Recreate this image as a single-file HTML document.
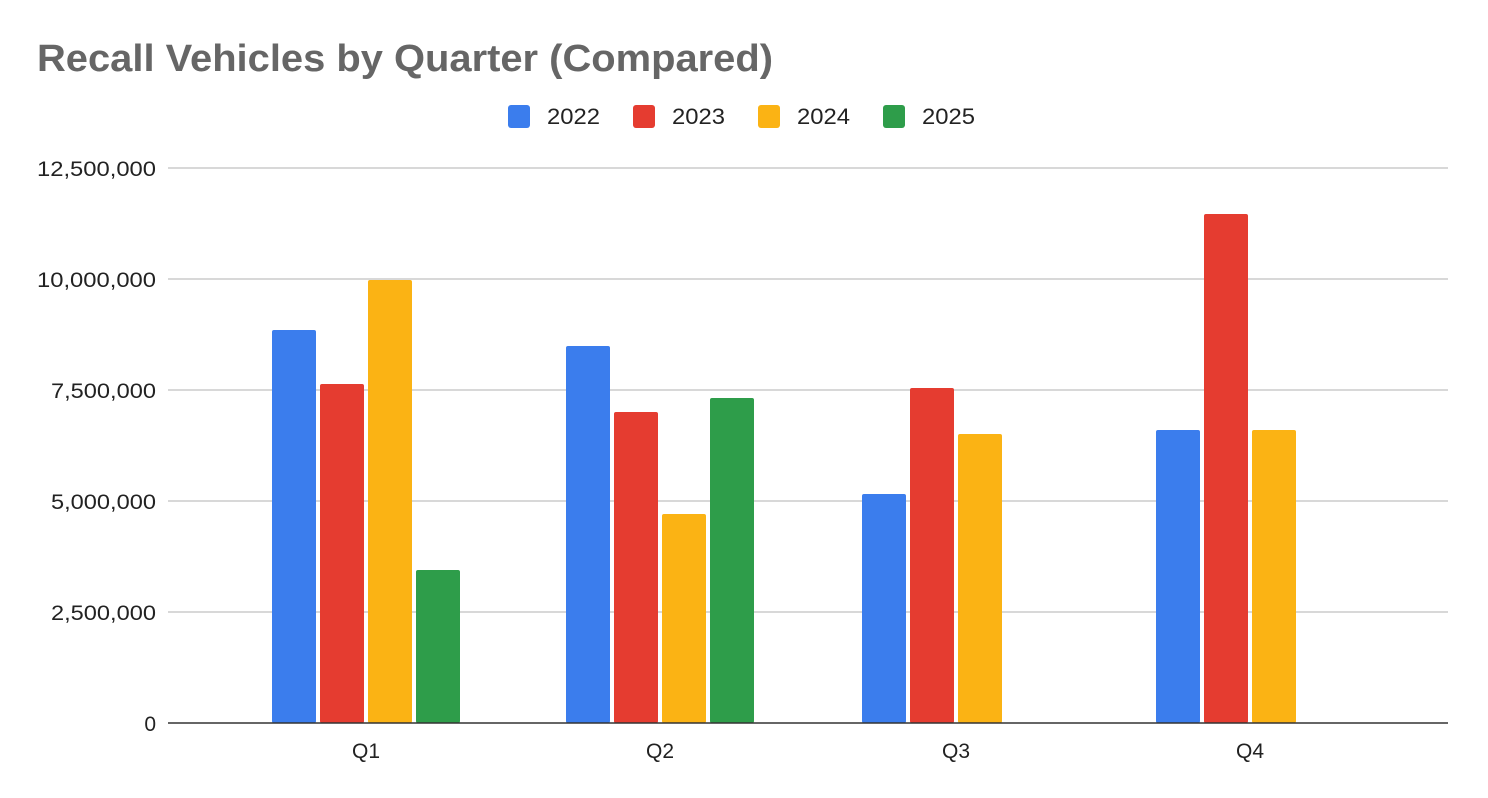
<!DOCTYPE html>
<html><head><meta charset="utf-8"><style>body{margin:0;background:#fff}svg{display:block}</style></head><body>
<svg width="1488" height="798" xmlns="http://www.w3.org/2000/svg" font-family="Liberation Sans, Arial, sans-serif">
<rect width="1488" height="798" fill="#fff"/>
<text x="37" y="71" font-size="38" font-weight="bold" fill="#666" textLength="736" lengthAdjust="spacingAndGlyphs">Recall Vehicles by Quarter (Compared)</text>
<g font-size="22" fill="#222">
<rect x="508" y="105" width="22" height="23" rx="3" fill="#3b7ded"/><text x="547" y="124" textLength="53" lengthAdjust="spacingAndGlyphs">2022</text>
<rect x="633" y="105" width="22" height="23" rx="3" fill="#e53c30"/><text x="672" y="124" textLength="53" lengthAdjust="spacingAndGlyphs">2023</text>
<rect x="758" y="105" width="22" height="23" rx="3" fill="#fbb314"/><text x="797" y="124" textLength="53" lengthAdjust="spacingAndGlyphs">2024</text>
<rect x="883" y="105" width="22" height="23" rx="3" fill="#2e9d4a"/><text x="922" y="124" textLength="53" lengthAdjust="spacingAndGlyphs">2025</text>
</g>
<g stroke="#ccc" stroke-width="1.5">
<line x1="168" x2="1448" y1="168" y2="168"/><line x1="168" x2="1448" y1="279" y2="279"/>
<line x1="168" x2="1448" y1="390" y2="390"/><line x1="168" x2="1448" y1="501" y2="501"/>
<line x1="168" x2="1448" y1="612" y2="612"/>
</g>
<g font-size="21" fill="#222" text-anchor="end" lengthAdjust="spacingAndGlyphs">
<text x="156" y="176" textLength="119" lengthAdjust="spacingAndGlyphs">12,500,000</text><text x="156" y="287" textLength="119" lengthAdjust="spacingAndGlyphs">10,000,000</text>
<text x="156" y="398" textLength="105" lengthAdjust="spacingAndGlyphs">7,500,000</text><text x="156" y="509" textLength="105" lengthAdjust="spacingAndGlyphs">5,000,000</text>
<text x="156" y="620" textLength="105" lengthAdjust="spacingAndGlyphs">2,500,000</text><text x="156" y="731">0</text>
</g>
<g>
<rect x="272" y="330" width="44" height="393" rx="2" fill="#3b7ded"/>
<rect x="320" y="384" width="44" height="339" rx="2" fill="#e53c30"/>
<rect x="368" y="280" width="44" height="443" rx="2" fill="#fbb314"/>
<rect x="416" y="570" width="44" height="153" rx="2" fill="#2e9d4a"/>
<rect x="566" y="346" width="44" height="377" rx="2" fill="#3b7ded"/>
<rect x="614" y="412" width="44" height="311" rx="2" fill="#e53c30"/>
<rect x="662" y="514" width="44" height="209" rx="2" fill="#fbb314"/>
<rect x="710" y="398" width="44" height="325" rx="2" fill="#2e9d4a"/>
<rect x="862" y="494" width="44" height="229" rx="2" fill="#3b7ded"/>
<rect x="910" y="388" width="44" height="335" rx="2" fill="#e53c30"/>
<rect x="958" y="434" width="44" height="289" rx="2" fill="#fbb314"/>
<rect x="1156" y="430" width="44" height="293" rx="2" fill="#3b7ded"/>
<rect x="1204" y="214" width="44" height="509" rx="2" fill="#e53c30"/>
<rect x="1252" y="430" width="44" height="293" rx="2" fill="#fbb314"/>
</g>
<line x1="168" x2="1448" y1="723" y2="723" stroke="#333" stroke-width="1.5"/>
<g font-size="21" fill="#222" text-anchor="middle">
<text x="366" y="758">Q1</text><text x="660" y="758">Q2</text><text x="956" y="758">Q3</text><text x="1250" y="758">Q4</text>
</g>
</svg>
</body></html>
